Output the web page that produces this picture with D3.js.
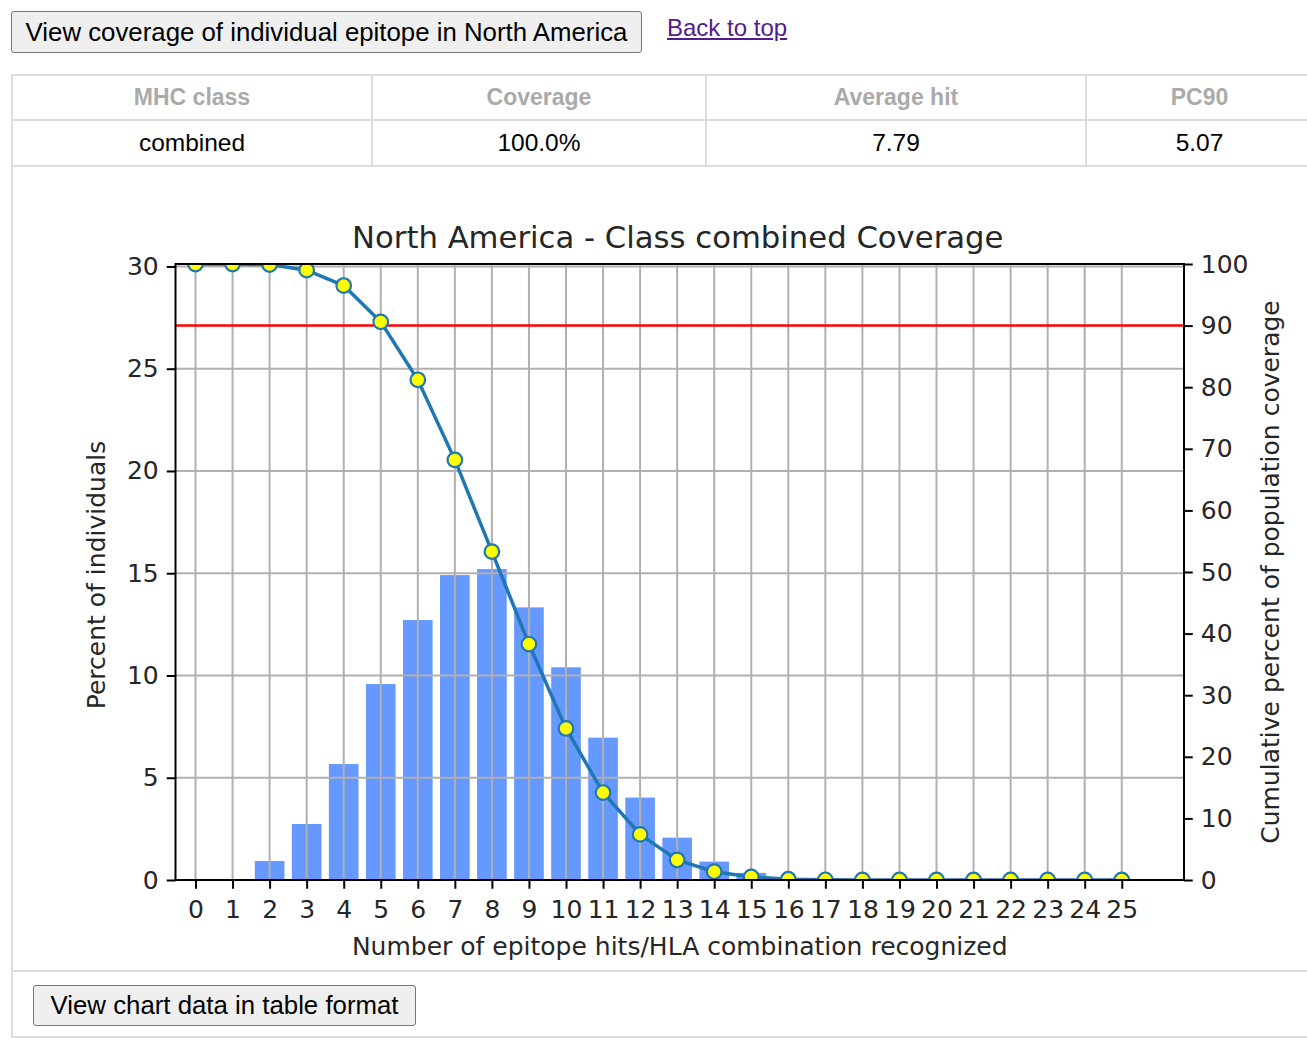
<!DOCTYPE html>
<html>
<head>
<meta charset="utf-8">
<script src="https://cdn.jsdelivr.net/npm/d3@7"></script>
<style>
  html, body { margin: 0; padding: 0; background: #fff; overflow: hidden; }
  body { width: 1307px; height: 1049px; position: relative; font-family: "Liberation Sans", Arial, sans-serif; }
  .btn {
    position: absolute; box-sizing: border-box;
    font-family: "Liberation Sans", Arial, sans-serif; font-size: 25.8px; color: #000;
    background: #efefef; border: 1px solid #767676; border-radius: 3px;
    padding: 0; margin: 0; text-align: center;
  }
  #top-link { position: absolute; left: 667px; top: 14px; font-size: 24px; color: #551a8b; text-decoration: underline; }
  table.summary {
    position: absolute; left: 11px; top: 74px; width: 1303px;
    border-collapse: collapse; table-layout: fixed;
  }
  table.summary td, table.summary th { border: 2px solid #ddd; padding: 0; text-align: center; font-size: 24.5px; }
  table.summary th { color: #aaa; font-weight: bold; height: 43px; font-size: 23px; }
  table.summary td.val { height: 44px; color: #000; }
  #chart { position: absolute; left: 0; top: 0; }
</style>
</head>
<body>
<button class="btn" style="left:11px;top:11px;width:631px;height:42px;">View coverage of individual epitope in North America</button>
<a id="top-link" href="#">Back to top</a>

<table class="summary">
  <tr>
    <th style="width:358px">MHC class</th>
    <th style="width:332px">Coverage</th>
    <th style="width:378px">Average hit</th>
    <th>PC90</th>
  </tr>
  <tr>
    <td class="val">combined</td>
    <td class="val">100.0%</td>
    <td class="val">7.79</td>
    <td class="val">5.07</td>
  </tr>
  <tr><td colspan="4" style="height:803px"></td></tr>
  <tr><td colspan="4" style="height:64px"></td></tr>
</table>
<button class="btn" style="left:33px;top:985px;width:383px;height:41px;">View chart data in table format</button>

<svg id="chart" width="1307" height="1049"></svg>

<script>
// epitope hits per HLA combination (x categories)
const hits = [0, 1, 2, 3, 4, 5, 6, 7, 8, 9, 10, 11, 12, 13, 14, 15, 16, 17, 18, 19, 20, 21, 22, 23, 24, 25];
// percent of individuals (bars, left axis)
const percentIndividuals = [0, 0, 0.93, 2.74, 5.67, 9.58, 12.71, 14.91, 15.2, 13.33, 10.4, 6.96, 4.03, 2.07, 0.9, 0.35, 0.1, 0.03, 0.01, 0, 0, 0, 0, 0, 0, 0];
// cumulative percent of population coverage (line, right axis)
const cumulativeCoverage = [100, 100, 99.9, 99.0, 96.5, 90.6, 81.2, 68.2, 53.3, 38.3, 24.6, 14.2, 7.4, 3.25, 1.35, 0.5, 0.12, 0.03, 0.01, 0, 0, 0, 0, 0, 0, 0];
const leftTicks = [0, 5, 10, 15, 20, 25, 30];
const rightTicks = [0, 10, 20, 30, 40, 50, 60, 70, 80, 90, 100];
const pc90Level = 90;

const title = "North America - Class combined Coverage";
const xLabel = "Number of epitope hits/HLA combination recognized";
const yLabel = "Percent of individuals";
const y2Label = "Cumulative percent of population coverage";

// plot box inside the page
const margin = {top: 264, right: 123, bottom: 169, left: 175.5},
  width = 1307 - margin.left - margin.right,
  height = 1049 - margin.top - margin.bottom;

const svg = d3.select("#chart")
  .append("g")
  .attr("transform", `translate(${margin.left}, ${margin.top})`);

const x = d3.scaleLinear().domain([-0.54, 26.68]).range([0, width]);
const y = d3.scaleLinear().domain([0, 30.12]).range([height, 0]);
const y2 = d3.scaleLinear().domain([0, 100]).range([height, 0]);

svg.append("clipPath").attr("id", "plot-clip")
  .append("rect").attr("width", width).attr("height", height);

const fontFam = "DejaVu Sans, sans-serif";
const tickLen = 8.75;

// bars
svg.append("g")
  .selectAll("rect")
  .data(hits)
  .enter().append("rect")
    .attr("x", d => x(d - 0.4))
    .attr("width", x(0.8) - x(0))
    .attr("y", (d, i) => y(percentIndividuals[i]))
    .attr("height", (d, i) => height - y(percentIndividuals[i]))
    .attr("fill", "#6699ff");

// grid
const grid = svg.append("g").attr("stroke", "#b0b0b0").attr("stroke-width", 2);
grid.selectAll("line.v")
  .data(hits)
  .enter().append("line")
    .attr("class", "v")
    .attr("x1", d => x(d)).attr("x2", d => x(d))
    .attr("y1", 0).attr("y2", height);
grid.selectAll("line.h")
  .data(leftTicks.slice(1))
  .enter().append("line")
    .attr("class", "h")
    .attr("x1", 0).attr("x2", width)
    .attr("y1", d => y(d)).attr("y2", d => y(d));

const clipped = svg.append("g").attr("clip-path", "url(#plot-clip)");

// 90% reference line
clipped.append("line")
  .attr("x1", 0).attr("x2", width)
  .attr("y1", y2(pc90Level)).attr("y2", y2(pc90Level))
  .attr("stroke", "#ff0000")
  .attr("stroke-width", 2.5);

// cumulative line
const line = d3.line()
  .x((d, i) => x(hits[i]))
  .y(d => y2(d));

clipped.append("path")
  .datum(cumulativeCoverage)
  .attr("fill", "none")
  .attr("stroke", "#1f77b4")
  .attr("stroke-width", 3.5)
  .attr("d", line);

clipped.selectAll("circle")
  .data(cumulativeCoverage)
  .enter().append("circle")
    .attr("cx", (d, i) => x(hits[i]))
    .attr("cy", d => y2(d))
    .attr("r", 7.3)
    .attr("fill", "#ffff00")
    .attr("stroke", "#1f77b4")
    .attr("stroke-width", 2.2);

// axes
function styleAxis(g) {
  g.select(".domain").remove();
  g.selectAll(".tick line").attr("stroke", "#000").attr("stroke-width", 2);
  g.selectAll(".tick text")
    .attr("fill", "#262626")
    .attr("font-family", fontFam)
    .attr("font-size", 25);
}

svg.append("g")
  .attr("transform", `translate(0, ${height})`)
  .call(d3.axisBottom(x).tickValues(hits).tickFormat(d3.format("d")).tickSize(tickLen).tickPadding(11))
  .call(styleAxis);

svg.append("g")
  .call(d3.axisLeft(y).tickValues(leftTicks).tickFormat(d3.format("d")).tickSize(tickLen).tickPadding(8))
  .call(styleAxis);

svg.append("g")
  .attr("transform", `translate(${width}, 0)`)
  .call(d3.axisRight(y2).tickValues(rightTicks).tickFormat(d3.format("d")).tickSize(tickLen).tickPadding(8))
  .call(styleAxis);

// frame
svg.append("rect")
  .attr("width", width).attr("height", height)
  .attr("fill", "none").attr("stroke", "#000").attr("stroke-width", 2);

// texts
svg.append("text")
  .attr("x", width / 2 - 2).attr("y", -16)
  .attr("text-anchor", "middle")
  .attr("font-family", fontFam).attr("font-size", 30.7).attr("fill", "#262626")
  .text(title);

svg.append("text")
  .attr("x", width / 2).attr("y", height + 75)
  .attr("text-anchor", "middle")
  .attr("font-family", fontFam).attr("font-size", 25).attr("fill", "#262626")
  .text(xLabel);

svg.append("text")
  .attr("transform", `translate(-71, ${height / 2 + 3}) rotate(-90)`)
  .attr("text-anchor", "middle")
  .attr("font-family", fontFam).attr("font-size", 25).attr("fill", "#262626")
  .text(yLabel);

svg.append("text")
  .attr("transform", `translate(${width + 95}, ${height / 2}) rotate(-90)`)
  .attr("text-anchor", "middle")
  .attr("font-family", fontFam).attr("font-size", 25).attr("fill", "#262626")
  .text(y2Label);
</script>
</body>
</html>
